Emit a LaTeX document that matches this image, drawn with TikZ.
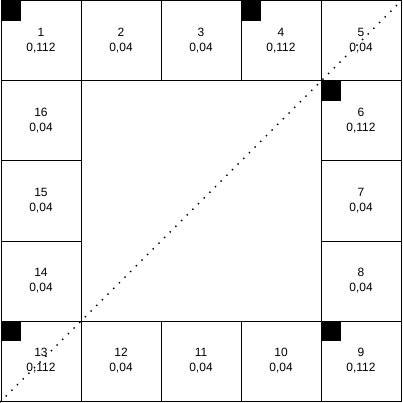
\documentclass[tikz,border=0pt]{standalone}
\usepackage{fontspec}
\setmainfont{Liberation Sans}
\begin{document}
\begin{tikzpicture}[x=1pt,y=-1pt,
  cell/.style={draw, line width=1pt, minimum size=80pt, inner sep=0pt, align=center,
    font=\fontsize{12}{15}\selectfont},
  blk/.style={fill=black, minimum size=20pt, inner sep=0pt, anchor=north west},
  diag/.style={line width=2pt, line cap=round, dash pattern=on 0pt off 8pt}]
\useasboundingbox (0,0) rectangle (403,403);
\fill[white] (0,0) rectangle (403,403);
% top row
\node[cell] (c1)  at (41,41)   {1\\0,112};
\node[cell] (c2)  at (121,41)  {2\\0,04};
\node[cell] (c3)  at (201,41)  {3\\0,04};
\node[cell] (c4)  at (281,41)  {4\\0,112};
\node[cell] (c5)  at (361,41)  {5\\0,04};
% right column
\node[cell] (c6)  at (361,121) {6\\0,112};
\node[cell] (c7)  at (361,201) {7\\0,04};
\node[cell] (c8)  at (361,281) {8\\0,04};
% bottom row
\node[cell] (c9)  at (361,361) {9\\0,112};
\node[cell] (c10) at (281,361) {10\\0,04};
\node[cell] (c11) at (201,361) {11\\0,04};
\node[cell] (c12) at (121,361) {12\\0,04};
\node[cell] (c13) at (41,361)  {13\\0,112};
% left column
\node[cell] (c14) at (41,281)  {14\\0,04};
\node[cell] (c15) at (41,201)  {15\\0,04};
\node[cell] (c16) at (41,121)  {16\\0,04};
% black markers
\node[blk] (b1)  at (c1.north west)  {};
\node[blk] (b4)  at (c4.north west)  {};
\node[blk] (b6)  at (c6.north west)  {};
\node[blk] (b9)  at (c9.north west)  {};
\node[blk] (b13) at (c13.north west) {};
% diagonal
\draw[diag] (c13.south west) -- (c5.north east);
\end{tikzpicture}
\end{document}
